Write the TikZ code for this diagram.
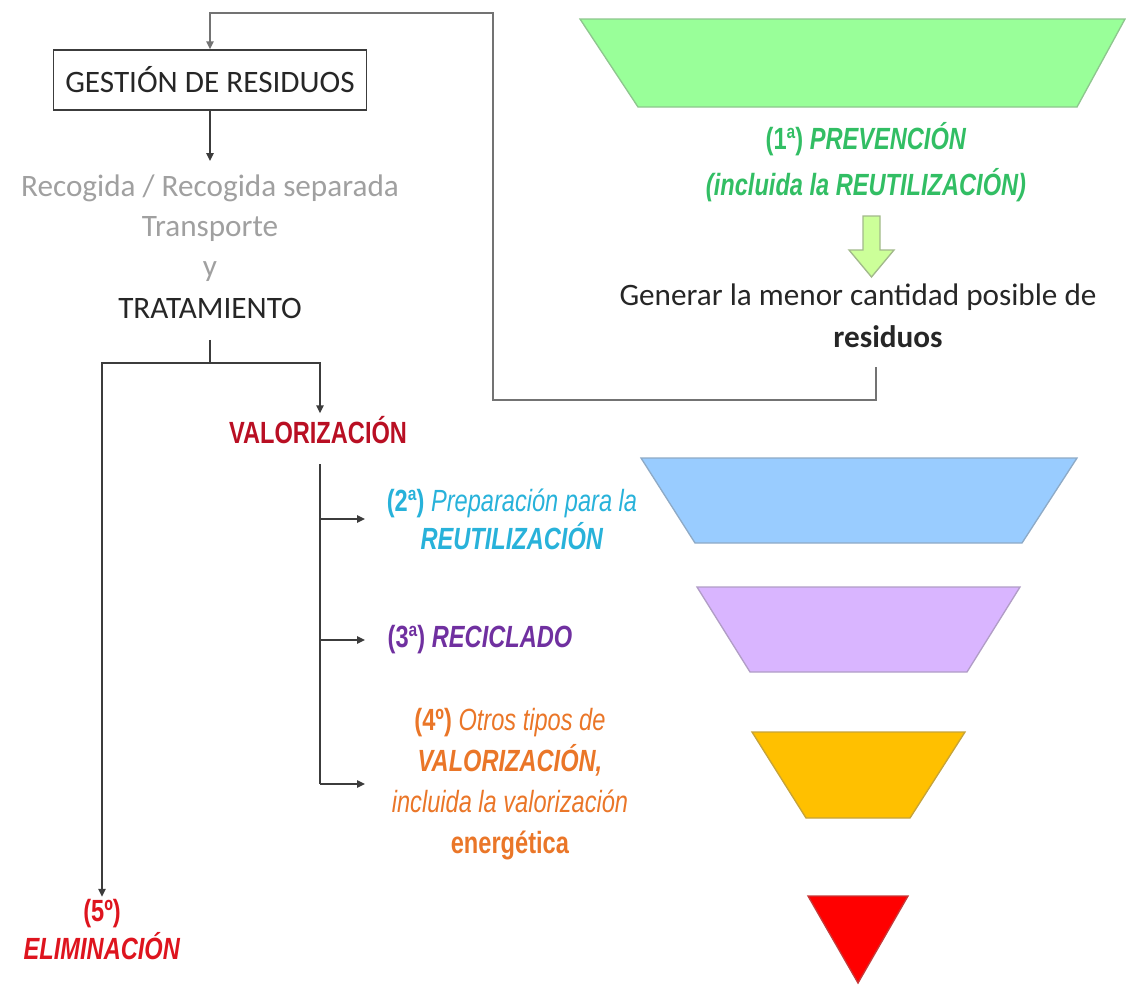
\documentclass[tikz,border=0pt]{standalone}
\usepackage{fontspec}
\setmainfont{Carlito}
\newfontfamily\narrowsf[FakeStretch=0.77]{Liberation Sans}
\usetikzlibrary{arrows.meta,calc,positioning}
\definecolor{linkgray}{RGB}{60,60,60}
\definecolor{loopgray}{RGB}{115,115,115}
\definecolor{softgray}{RGB}{160,160,160}
\definecolor{inkblack}{RGB}{38,38,38}
\definecolor{stepgreen}{RGB}{50,190,100}
\definecolor{stepblue}{RGB}{40,178,218}
\definecolor{steppurple}{RGB}{112,48,160}
\definecolor{steporange}{RGB}{234,118,40}
\definecolor{stepred}{RGB}{222,20,30}
\definecolor{valred}{RGB}{185,15,35}
\definecolor{greenband}{RGB}{153,255,153}
\definecolor{blueband}{RGB}{153,204,255}
\definecolor{purpleband}{RGB}{217,181,255}
\definecolor{orangeband}{RGB}{255,192,0}
\definecolor{redband}{RGB}{255,0,0}
\definecolor{arrowgreen}{RGB}{204,255,153}
\newcommand{\funnelband}[7]{%
  \filldraw[fill=#1,draw=#1!55!gray,line width=1pt] (#4,#2) -- (#5,#2) -- (#7,#3) -- (#6,#3) -- cycle;%
}

\begin{document}
\begin{tikzpicture}[x=0.75pt,y=-0.75pt,
  link/.style={draw=linkgray,line width=1.1pt},
  flow/.style={link,-{Triangle[length=6pt,width=5.5pt]}},
  loopline/.style={draw=loopgray,line width=1.1pt,-{Triangle[length=6pt,width=5.5pt]}},
  calibri/.style={font=\fontsize{23.4}{30}\selectfont,align=center,inner sep=2pt},
  tier/.style={font=\narrowsf\fontsize{23}{28.5}\selectfont,align=center,inner sep=2pt}]
  \useasboundingbox (0,0) rectangle (1126,985);
  % funnel of priorities
  \funnelband{greenband}{19}{107}{580}{1125}{638}{1077}
  \funnelband{blueband}{458}{543}{641}{1077}{695}{1022}
  \funnelband{purpleband}{587}{672}{697}{1020}{750}{967}
  \funnelband{orangeband}{732}{818}{752}{965}{806}{910}
  \funnelband{redband}{896}{983}{808}{908}{858}{858}
  \filldraw[fill=arrowgreen,draw=arrowgreen!45!gray,line width=1pt]
    (863,216) -- (880,216) -- (880,250) -- (894,250) -- (871.5,277) -- (849,250) -- (863,250) -- cycle;
  % left column
  \node[calibri,draw=linkgray,line width=1.1pt,minimum width=235pt,minimum height=45pt,text=inkblack] (gest) at (210,80) {GESTIÓN DE RESIDUOS};
  \node[calibri,text=softgray] (rec) at (210,228) {Recogida / Recogida separada\\Transporte\\y};
  \node[calibri,text=inkblack] (trat) at (210,308) {TRATAMIENTO};
  \node[tier,text=valred] (valor) at (318,430) {\textbf{VALORIZACIÓN}};
  \node[tier,text=stepred] (elim) at (102,930) {\textbf{(5º)}\\\textbf{\textit{ELIMINACIÓN}}};
  % labels of the tiers
  \node[tier,font=\narrowsf\fontsize{23}{34}\selectfont,text=stepgreen] (prev) at (866,162) {\textbf{(1ª) \textit{PREVENCIÓN}}\\\textbf{\textit{(incluida la REUTILIZACIÓN)}}};
  \node[calibri,font=\fontsize{23.4}{31.5}\selectfont,text=inkblack] (gen) at (858,316) {Generar la menor cantidad posible de\\\hspace*{45pt}\textbf{residuos}};
  \node[tier,text=stepblue] (reut) at (512,519) {\textbf{(2ª)} \textit{Preparación para la}\\\textbf{\textit{REUTILIZACIÓN}}};
  \node[tier,text=steppurple] (recic) at (480,640) {\textbf{(3ª) \textit{RECICLADO}}};
  \node[tier,font=\narrowsf\fontsize{23}{30.75}\selectfont,text=steporange] (otros) at (510,784) {\textbf{(4º)} \textit{Otros tipos de}\\\textbf{\textit{VALORIZACIÓN,}}\\\textit{incluida la valorización}\\\textbf{energética}};
  % connectors
  \coordinate (loop) at (493,13);
  \coordinate (genout) at (876,367);
  \coordinate (split) at (210,363);
  \coordinate (tips) at (365,0);
  \draw[loopline] (genout) -- (genout |- 0,400) -| (loop) -| (gest.north);
  \draw[flow,shorten >=8pt] (gest.south) -- (rec.north);
  \draw[link,shorten <=14pt] (trat.south) -- (split);
  \draw[flow] (split) -| ([xshift=1.5pt]valor.north);
  \draw[flow] (split) -| (elim.north);
  \draw[link] ([xshift=1.5pt,yshift=-13pt]valor.south) -- ([xshift=1.5pt]valor.south |- otros.west);
  \foreach \tgt in {reut,recic,otros}
    \draw[flow] ([xshift=1.5pt]valor.south |- \tgt.west) -- (tips |- \tgt.west);
\end{tikzpicture}
\end{document}
